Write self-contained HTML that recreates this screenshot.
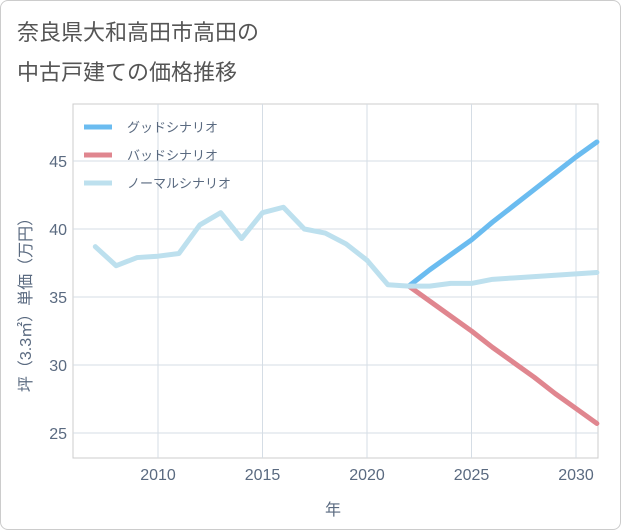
<!DOCTYPE html>
<html><head><meta charset="utf-8">
<style>
body{margin:0;background:#fff;font-family:"Liberation Sans","Noto Sans CJK JP",sans-serif;}
#wrap{position:relative;width:619px;height:528px;border:1px solid #ccc;border-radius:8px;background:#fff;overflow:hidden}
svg text{font-family:"Liberation Sans","Noto Sans CJK JP",sans-serif;}
</style></head><body>
<div id="wrap">
<svg id="chart" width="621" height="530">
<text x="16" y="39" font-size="22" fill="#555">奈良県大和高田市高田の</text>
<text x="16" y="79" font-size="22" fill="#555">中古戸建ての価格推移</text>
<g id="grid"></g><g id="series"></g><g id="legend"></g>
<text x="332" y="514" font-size="16" fill="#5a6a80" text-anchor="middle">年</text>
<text transform="translate(30,300) rotate(-90)" font-size="16" fill="#5a6a80" text-anchor="middle">坪（3.3㎡）単価（万円）</text>
</svg></div>
<script>
const years=[2007,2008,2009,2010,2011,2012,2013,2014,2015,2016,2017,2018,2019,2020,2021,2022,2023,2024,2025,2026,2027,2028,2029,2030,2031];
const normalVals=[38.7,37.3,37.9,38.0,38.2,40.3,41.2,39.3,41.2,41.6,40.0,39.7,38.9,37.7,35.9,35.8,35.8,36.0,36.0,36.3,36.4,36.5,36.6,36.7,36.8];
const futureYears=[2022,2023,2024,2025,2026,2027,2028,2029,2030,2031];
const goodVals=[35.8,37.0,38.1,39.2,40.5,41.7,42.9,44.1,45.3,46.4];
const badVals=[35.8,34.7,33.6,32.5,31.3,30.2,29.1,27.9,26.8,25.7];
const xTicks=[2010,2015,2020,2025,2030];
const yTicks=[25,30,35,40,45];
const L=72,R=597,T=103,B=457;
const x=v=>157+(v-2010)*20.9;
const y=v=>296-(v-35)*13.6;
const NS='http://www.w3.org/2000/svg';
function mk(tag,attrs,parent){const e=document.createElementNS(NS,tag);for(const k in attrs)e.setAttribute(k,attrs[k]);parent.appendChild(e);return e;}
const grid=document.getElementById('grid');
mk('rect',{x:L,y:T,width:R-L,height:B-T,fill:'none',stroke:'#ccc'},grid);
xTicks.forEach(t=>{
  const l=mk('line',{x1:x(t),x2:x(t),y1:T,y2:B,stroke:'#d5dde5'},grid);
  
  
  const tx=mk('text',{x:x(t),y:B+22,'font-size':16,fill:'#5a6a80','text-anchor':'middle'},grid);
  tx.textContent=t;
  
  
});
yTicks.forEach(t=>{
  const l=mk('line',{x1:L,x2:R,y1:y(t),y2:y(t),stroke:'#d5dde5'},grid);
  
  
  const tx=mk('text',{x:L-6,y:y(t)+6,'font-size':16,fill:'#5a6a80','text-anchor':'end'},grid);
  tx.textContent=t;
  
  
});
const sg=document.getElementById('series');
function line(xs,vs,color,name){
  const p=mk('polyline',{points:xs.map((v,i)=>x(v)+','+y(vs[i])).join(' '),fill:'none',stroke:color,'stroke-width':5,'stroke-linejoin':'round','stroke-linecap':'round'},sg);
  
  
}
line(futureYears,badVals,'#e0868f','bad-scenario-line');
line(futureYears,goodVals,'#6bbcf0','good-scenario-line');
line(years,normalVals,'#bde0ee','normal-scenario-line');
const lg=document.getElementById('legend');
[['グッドシナリオ','#6bbcf0','legend-good'],['バッドシナリオ','#e0868f','legend-bad'],['ノーマルシナリオ','#bde0ee','legend-normal']].forEach((d,i)=>{
  const g=mk('g',{},lg);
  
  
  const yy=126+i*28;
  mk('line',{x1:83,x2:111,y1:yy,y2:yy,stroke:d[1],'stroke-width':5},g);
  const t=mk('text',{x:126,y:yy+5,'font-size':13,fill:'#5a6a80'},g);
  t.textContent=d[0];
});
</script>
</body></html>
